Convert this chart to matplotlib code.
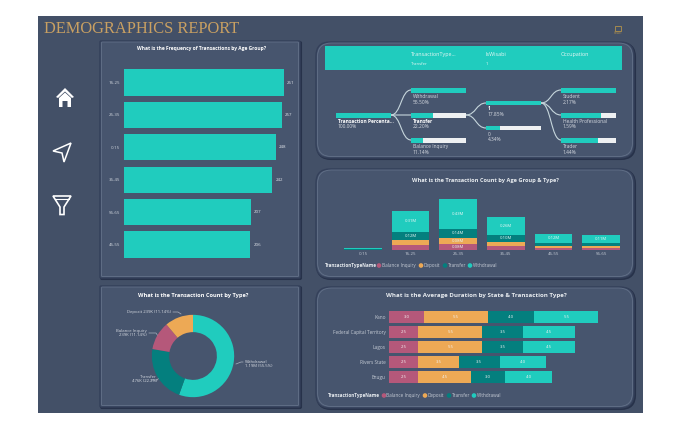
import matplotlib
matplotlib.use('Agg')
import matplotlib.pyplot as plt
from matplotlib.patches import FancyBboxPatch, Rectangle, Polygon, PathPatch
from matplotlib.path import Path

plt.rcParams['font.family'] = ['Open Sans', 'DejaVu Sans']

W, H = 680, 422
BG = '#435067'
PANEL = '#47556E'
TEAL = '#20CCBE'
DTEAL = '#047F7E'
ROSE = '#B5587A'
GOLD = '#EDA955'
TXT = '#E8ECF0'

# frequency by age group
freq_ages = ['16-25', '26-35', '0-15', '36-45', '56-65', '46-55']
freq_vals = [261, 257, 248, 242, 207, 206]

# count by age group and type (millions)
age_groups = ['0-15', '16-25', '26-35', '36-45', '46-55', '56-65']
age_balance = [0.0, 0.06, 0.08, 0.05, 0.02, 0.02]
age_deposit = [0.0, 0.07, 0.08, 0.06, 0.03, 0.03]
age_transfer = [0.005, 0.12, 0.14, 0.10, 0.05, 0.05]
age_withdrawal = [0.015, 0.31, 0.43, 0.26, 0.12, 0.11]

# donut
type_names = ['Withdrawal', 'Transfer', 'Balance Inquiry', 'Deposit']
type_counts = [1190, 476, 239, 239]
type_labels = ['Withdrawal\n1.19M (55.5%)', 'Transfer\n476K (22.2%)',
               'Balance Inquiry\n239K (11.14%)', 'Deposit 239K (11.14%)']

# duration by state
states = ['Kano', 'Federal Capital Territory', 'Lagos', 'Rivers State', 'Enugu']
dur_balance = [3.0, 2.5, 2.5, 2.5, 2.5]
dur_deposit = [5.5, 5.5, 5.5, 3.5, 4.5]
dur_transfer = [4.0, 3.5, 3.5, 3.5, 3.0]
dur_withdrawal = [5.5, 4.5, 4.5, 4.0, 4.0]

# decomposition tree
tree_root = ('Transaction Percenta...', '100.00%')
tree_l1 = [('Withdrawal', '55.50%', 1.0), ('Transfer', '22.20%', 0.40), ('Balance Inquiry', '11.14%', 0.21)]
tree_l2 = [('1', '17.85%', 1.0), ('0', '4.34%', 0.25)]
tree_l3 = [('Student', '2.17%', 1.0), ('Health Professional', '1.59%', 0.73), ('Trader', '1.44%', 0.67)]
tree_heads = [('TransactionType...', 'Transfer'), ('IsWisabi', '1'), ('Occupation', '')]

fig = plt.figure(figsize=(W / 100, H / 100), dpi=100, facecolor='white')
root = fig.add_axes([0, 0, 1, 1])
root.set_xlim(0, W)
root.set_ylim(H, 0)
root.axis('off')


def px_axes(x0, y0, x1, y1):
    ax = fig.add_axes([x0 / W, 1 - y1 / H, (x1 - x0) / W, (y1 - y0) / H])
    ax.patch.set_alpha(0)
    for s in ax.spines.values():
        s.set_visible(False)
    ax.tick_params(length=0)
    return ax


def panel(x0, y0, x1, y1, r):
    root.add_patch(FancyBboxPatch((x0 + 1, y0 + 1), x1 - x0, y1 - y0, boxstyle='round,pad=0,rounding_size=%d' % r,
                                  fc='#27324A', ec='#27324A', lw=1.5))
    root.add_patch(FancyBboxPatch((x0, y0), x1 - x0, y1 - y0, boxstyle='round,pad=0,rounding_size=%d' % r,
                                  fc=PANEL, ec='#34405A', lw=1))
    root.add_patch(FancyBboxPatch((x0 + 1.5, y0 + 1), x1 - x0 - 3, y1 - y0 - 2.5, boxstyle='round,pad=0,rounding_size=%d' % r,
                                  fc='none', ec='#75839A', lw=0.6, alpha=0.6))


def legend_row(x, y, off, items):
    root.text(x, y, 'TransactionTypeName', color=TXT, fontsize=3.3, fontweight='bold', va='center')
    x += off
    for name, col, adv in items:
        root.add_patch(plt.Circle((x, y), 1.6, color=col))
        root.text(x + 2.5, y, name, color='#C5CBD5', fontsize=3.3, va='center')
        x += adv


root.add_patch(Rectangle((38, 16), 605, 397, fc=BG, ec='none'))
root.text(43.5, 29, 'DEMOGRAPHICS REPORT', family='Liberation Serif', color='#C9A062', fontsize=11.8, va='center')

panel(100, 41, 300, 278, 1)
panel(100, 286, 300, 407, 1)
panel(316, 42, 634, 158, 14)
panel(316, 169, 634, 278, 14)
panel(316, 287, 634, 408, 14)

# side icons
root.add_patch(Polygon([(65, 88), (56, 97), (58, 98), (65, 91.5), (72, 98), (74, 97)], fc='white', ec='none'))
root.add_patch(Polygon([(59, 98), (65, 92.5), (71, 98), (71, 107), (67.5, 107), (67.5, 101), (62.5, 101), (62.5, 107), (59, 107)],
                       fc='white', ec='none'))
root.add_patch(Polygon([(71, 143), (53, 151), (62, 153), (64, 162)], fc='none', ec='white', lw=1.1))
root.add_patch(Polygon([(53, 196), (71, 196), (64, 207), (64, 214.5), (60, 214.5), (60, 207)], fc='none', ec='white', lw=1.2))
root.plot([55, 69], [199, 199], color='white', lw=0.8)
root.add_patch(Rectangle((615, 26), 6, 5, fc='none', ec='#A58A4F', lw=0.7))
root.text(618, 33.5, 'WISABI', color='#A58A4F', fontsize=1.8, ha='center', va='center')

# frequency bars
root.text(202, 48.5, 'What is the Frequency of Transactions by Age Group?', color='white', fontsize=3.5,
          fontweight='bold', ha='center', va='center')
ax = px_axes(124, 66.3, 284, 260.7)
ax.barh(range(len(freq_ages)), freq_vals, height=0.81, color=TEAL)
ax.set_xlim(0, 261)
ax.set_ylim(5.5, -0.5)
ax.set_xticks([])
ax.set_yticks(range(len(freq_ages)), freq_ages, color='#D0D5DD', fontsize=3.2)
ax.tick_params(axis='y', pad=3)
for i, v in enumerate(freq_vals):
    ax.text(v + 5, i, str(v), color='#E0E4EA', fontsize=3.2, va='center', clip_on=False)

# donut
root.text(193, 295.5, 'What is the Transaction Count by Type?', color='white', fontsize=4.1,
          fontweight='bold', ha='center', va='center')
ax = px_axes(151, 314, 235, 398)
ax.pie(type_counts, colors=[TEAL, DTEAL, ROSE, GOLD], startangle=90, counterclock=False, radius=1,
       wedgeprops=dict(width=0.42))
ax.set_xlim(-1.02, 1.02)
ax.set_ylim(-1.02, 1.02)
root.text(245, 364, type_labels[0], color='#D6DAE1', fontsize=3.1, va='center', linespacing=1.15)
root.text(157, 379, type_labels[1], color='#D6DAE1', fontsize=3.1, va='center', ha='right', linespacing=1.15,
          multialignment='right')
root.text(146.5, 333, type_labels[2], color='#D6DAE1', fontsize=3.1, va='center', ha='right', linespacing=1.15,
          multialignment='right')
root.text(171, 312, type_labels[3], color='#D6DAE1', fontsize=3.1, va='center', ha='right')
root.plot([236, 241, 243], [364, 362, 362], color='#AAB2BF', lw=0.5)
root.plot([151, 157, 159], [380, 380, 378], color='#AAB2BF', lw=0.5)
root.plot([149, 156, 158], [333, 333, 336], color='#AAB2BF', lw=0.5)
root.plot([173, 178, 181], [312, 312, 314], color='#AAB2BF', lw=0.5)

# decomposition tree
root.add_patch(Rectangle((325, 46), 297, 24, fc=TEAL, ec='none'))
for (h, sub), x in zip(tree_heads, [411, 486, 561]):
    root.text(x, 54.5, h, color='#E8F7F5', fontsize=3.9, va='center')
    root.text(x, 64, sub, color='#E8F7F5', fontsize=3.1, va='center')
clip = Rectangle((320, 44), 310, 108, transform=root.transData)


def node(x, y, label, value, frac, bold=False):
    root.add_patch(Rectangle((x, y), 55, 4.5, fc='#EEF0F2', ec='none'))
    root.add_patch(Rectangle((x, y), 55 * frac, 4.5, fc=TEAL, ec='none'))
    t1 = root.text(x + 2, y + 8.5, label, color='white' if bold else '#D6DAE1', fontsize=3.5,
                   fontweight='bold' if bold else 'normal', va='center')
    t2 = root.text(x + 2, y + 14, value, color='#D6DAE1', fontsize=3.5, va='center')
    t1.set_clip_path(clip)
    t2.set_clip_path(clip)


def link(x0, y0, x1, y1):
    xm = (x0 + x1) / 2
    p = Path([(x0, y0), (xm, y0), (xm, y1), (x1, y1)], [Path.MOVETO, Path.CURVE4, Path.CURVE4, Path.CURVE4])
    root.add_patch(PathPatch(p, fc='none', ec='#C6D6DC', lw=0.8))


for y in [90, 115, 140]:
    link(391, 115, 411, y)
for y in [103, 128]:
    link(466, 115, 486, y)
for y in [90, 115, 140]:
    link(541, 103, 561, y)
node(336, 113, tree_root[0], tree_root[1], 1.0, bold=True)
for (n, v, f), y, b in zip(tree_l1, [88, 113, 138], [False, True, False]):
    node(411, y, n, v, f, bold=b)
for (n, v, f), y, b in zip(tree_l2, [100.5, 125.5], [True, False]):
    node(486, y, n, v, f, bold=b)
for (n, v, f), y in zip(tree_l3, [88, 113, 138]):
    node(561, y, n, v, f)

# count by age group stacked
root.text(485, 180.5, 'What is the Transaction Count by Age Group & Type?', color=TXT, fontsize=4.1,
          fontweight='bold', ha='center', va='center')
ax = px_axes(339, 190, 625, 249.5)
bottom = [0.0] * 6
for vals, col in [(age_balance, ROSE), (age_deposit, GOLD), (age_transfer, DTEAL), (age_withdrawal, TEAL)]:
    ax.bar(range(6), vals, bottom=bottom, width=0.79, color=col)
    for i, v in enumerate(vals):
        if v >= 0.08:
            ax.text(i, bottom[i] + v / 2, '%.2fM' % v, color='#E8F7F5', fontsize=3.1, ha='center', va='center')
    bottom = [b + v for b, v in zip(bottom, vals)]
ax.set_xlim(-0.5, 5.5)
ax.set_ylim(0, 0.855)
ax.set_yticks([])
ax.set_xticks(range(6), age_groups, color='#C5CBD5', fontsize=3.2)
ax.tick_params(axis='x', pad=1.5)
legend_row(325, 265.5, 54, [('Balance Inquiry', ROSE, 42), ('Deposit', GOLD, 24), ('Transfer', DTEAL, 25), ('Withdrawal', TEAL, 30)])

# duration by state
root.text(476, 295.5, 'What is the Average Duration by State & Transaction Type?', color=TXT, fontsize=4.4,
          fontweight='bold', ha='center', va='center')
ax = px_axes(389.3, 309.1, 620, 384.9)
left = [0.0] * 5
for vals, col in [(dur_balance, ROSE), (dur_deposit, GOLD), (dur_transfer, DTEAL), (dur_withdrawal, TEAL)]:
    ax.barh(range(5), vals, left=left, height=0.79, color=col)
    for i, v in enumerate(vals):
        ax.text(left[i] + v / 2, i, '%.1f' % v, color='#F3F3F3', fontsize=3.1, ha='center', va='center')
    left = [a + v for a, v in zip(left, vals)]
ax.set_xlim(0, 230.7 / 11.6)
ax.set_ylim(4.5, -0.5)
ax.set_xticks([])
ax.set_yticks(range(5), states, color='#C5CBD5', fontsize=3.4)
ax.tick_params(axis='y', pad=2.6)
legend_row(328, 395.5, 56, [('Balance Inquiry', ROSE, 41), ('Deposit', GOLD, 24), ('Transfer', DTEAL, 25), ('Withdrawal', TEAL, 30)])

fig.savefig('out.png', dpi=100, facecolor='white')
